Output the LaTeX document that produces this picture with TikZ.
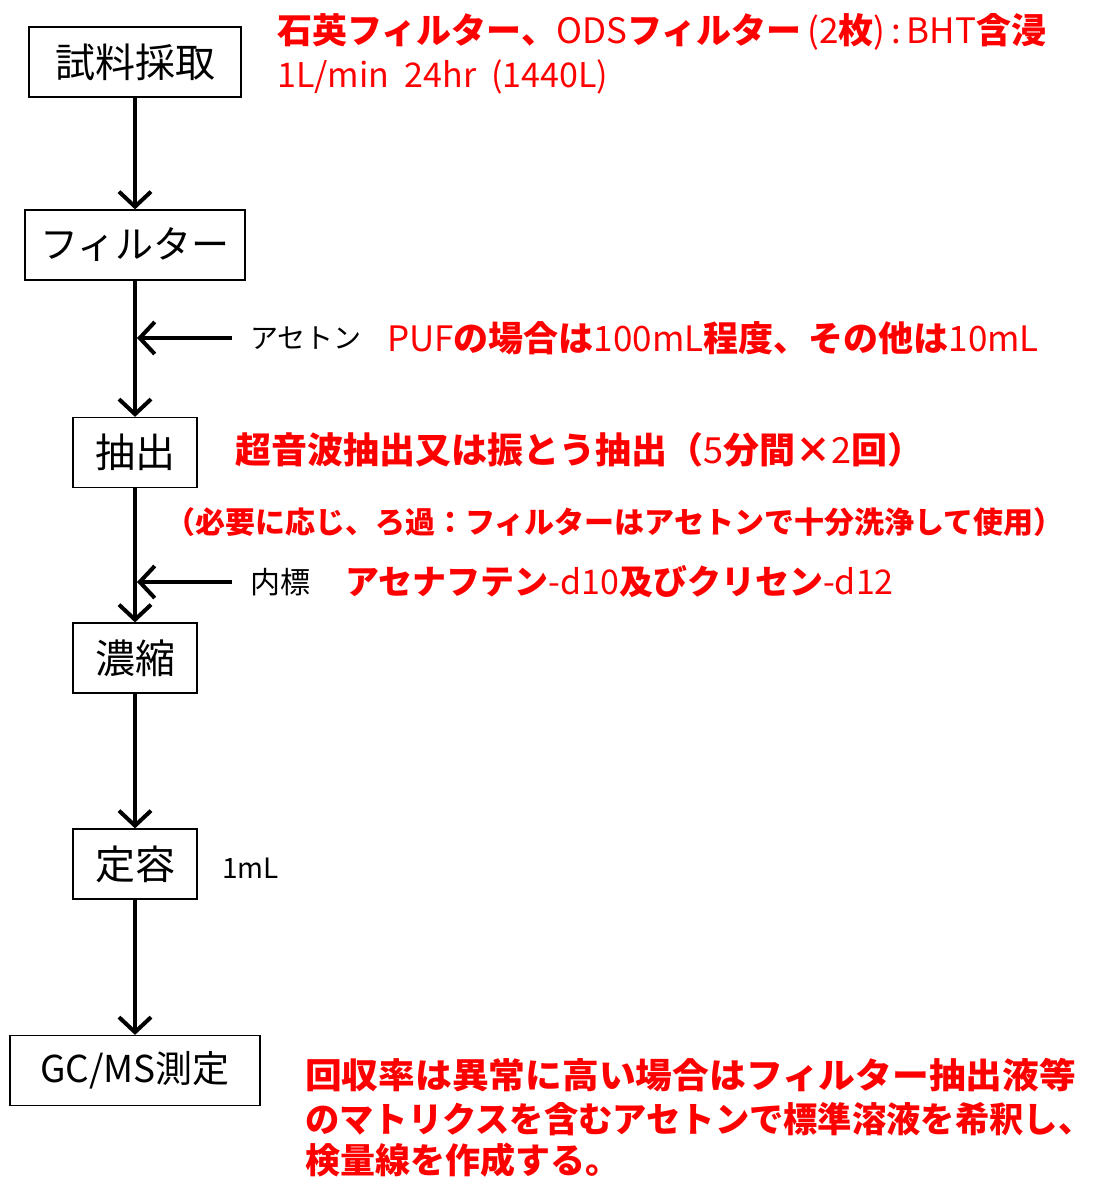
\documentclass[tikz,border=0pt]{standalone}
\usepackage{fontspec}
\usepackage{graphicx}
\setmainfont{Noto Sans CJK JP}
\usetikzlibrary{arrows.meta}
\newcommand{\jb}[1]{{\bfseries #1}}
\newcommand{\fs}[1]{\fontsize{#1pt}{#1pt}\selectfont}
\begin{document}
\begin{tikzpicture}[x=1pt,y=-1pt,
  box/.style={draw=black, line width=1.2pt, minimum height=70pt, inner sep=0pt, font=\fs{40}},
  flow/.style={line width=4pt, -{Straight Barb[length=15pt,width=32pt]}},
  note/.style={anchor=west, inner sep=0pt, text=black},
  rnote/.style={anchor=west, inner sep=0pt, text=red, align=left}]
\useasboundingbox (0,0) rectangle (1092,1185);
\fill[white] (0,0) rectangle (1092,1185);

\node[box, minimum width=212pt] (s1) at (135,62) {試料採取};
\node[box, minimum width=220pt, font=\fs{38}] (s2) at (135,245) {フィルター};
\node[box, minimum width=124pt] (s3) at (135,452.5) {抽出};
\node[box, minimum width=124pt] (s4) at (135,658) {濃縮};
\node[box, minimum width=124pt] (s5) at (135,864) {定容};
\node[box, minimum width=250pt, font=\fs{37}] (s6) at (135,1070.5) {GC/MS測定};

\draw[flow] (s1) -- (s2);
\draw[flow] (s2) -- (s3);
\draw[flow] (s3) -- (s4);
\draw[flow] (s4) -- (s5);
\draw[flow] (s5) -- (s6);

\coordinate (a1s) at (232,338);
\coordinate (a1e) at (137,338);
\draw[flow] (a1s) -- (a1e);
\coordinate (a2s) at (232,582);
\coordinate (a2e) at (137,582);
\draw[flow] (a2s) -- (a2e);

\node[rnote, font=\fs{35}] (t1) at (277,32) {\jb{石英フィルター、}ODS\jb{フィルター}\,(2\jb{枚})\,:\,BHT\jb{含浸}};
\node[rnote, font=\fs{34}] (t2) at (277,77) {1L/min\ \ 24hr\ \ (1440L)};

\node[note, font=\fs{28}] (l1) at (250,338) {アセトン};
\node[rnote, font=\fs{35}] (t3) at (387,338) {PUF\jb{の場合は}100mL\jb{程度、その他は}10mL};

\node[rnote, font=\fs{36}] (t4) at (235,450) {\jb{超音波抽出又は振とう抽出（}5\jb{分間×}2\jb{回）}};
\node[rnote, font=\fs{30}] (t5) at (165,522) {\jb{（必要に応じ、ろ過：フィルターはアセトンで十分洗浄して使用）}};

\node[note, font=\fs{30}] (l2) at (250,582) {内標};
\node[rnote, font=\fs{34}] (t6) at (345,582) {\jb{アセナフテン}-d10\jb{及びクリセン}-d12};

\node[note, font=\fs{28}] (l3) at (222,868) {1mL};

\node[rnote, font=\fs{35}, anchor=north west] (t7) at (305,1058) {\scalebox{1.05}[1]{\jb{回収率は異常に高い場合はフィルター抽出液等}}\\[9pt]
\scalebox{0.98}[1]{\jb{のマトリクスを含むアセトンで標準溶液を希釈し、}}\\[6pt]
\jb{検量線を作成する。}};
\end{tikzpicture}
\end{document}
